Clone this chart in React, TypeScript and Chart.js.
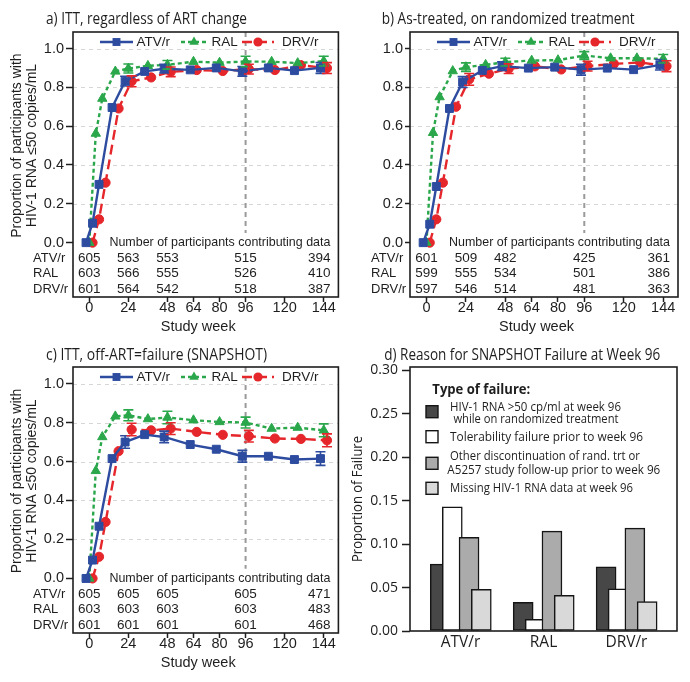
import React, { useEffect, useRef } from 'react';
import { Chart, registerables } from 'chart.js';

Chart.register(...registerables);

// ---------------- data ----------------
const WEEKS = [0, 4, 8, 16, 24, 36, 48, 64, 80, 96, 112, 128, 144];
const WEEK_TICKS = [0, 24, 48, 64, 80, 96, 120, 144];
const PROP_TICKS = [0, 0.2, 0.4, 0.6, 0.8, 1.0];
const GRID_VALUES = [0.2, 0.4, 0.6, 0.8, 1.0];
const REF_WEEK = 96;
const ERR_WEEKS = [24, 48, 96, 144];
const COUNT_WEEKS = [0, 24, 48, 96, 144];
const ARMS = ['ATV/r', 'RAL', 'DRV/r'];

// a) ITT, regardless of ART change
const A_ATV = [0, 0.1, 0.3, 0.696, 0.832, 0.882, 0.896, 0.89, 0.9, 0.882, 0.9, 0.886, 0.9];
const A_RAL = [0, 0.562, 0.742, 0.882, 0.897, 0.911, 0.916, 0.932, 0.927, 0.933, 0.932, 0.925, 0.935];
const A_DRV = [0, 0.12, 0.309, 0.691, 0.831, 0.851, 0.88, 0.889, 0.884, 0.894, 0.889, 0.914, 0.899];
const A_ERR_ATV = [0.025, 0.022, 0.025, 0.028];
const A_ERR_RAL = [0.023, 0.022, 0.027, 0.025];
const A_ERR_DRV = [0.028, 0.025, 0.025, 0.028];
const A_N_ATV = [605, 563, 553, 515, 394];
const A_N_RAL = [603, 566, 555, 526, 410];
const A_N_DRV = [601, 564, 542, 518, 387];

// b) As-treated, on randomized treatment
const B_ATV = [0, 0.095, 0.289, 0.691, 0.827, 0.887, 0.909, 0.899, 0.904, 0.891, 0.899, 0.891, 0.916];
const B_RAL = [0, 0.566, 0.75, 0.884, 0.904, 0.916, 0.93, 0.938, 0.94, 0.964, 0.95, 0.95, 0.947];
const B_DRV = [0, 0.12, 0.309, 0.7, 0.841, 0.87, 0.896, 0.908, 0.892, 0.909, 0.921, 0.928, 0.909];
const B_ERR_ATV = [0.028, 0.022, 0.028, 0.027];
const B_ERR_RAL = [0.022, 0.02, 0.02, 0.022];
const B_ERR_DRV = [0.03, 0.025, 0.025, 0.028];
const B_N_ATV = [601, 509, 482, 425, 361];
const B_N_RAL = [599, 555, 534, 501, 386];
const B_N_DRV = [597, 546, 514, 481, 363];

// c) ITT, off-ART=failure (SNAPSHOT)
const C_ATV = [0, 0.094, 0.268, 0.615, 0.7, 0.738, 0.726, 0.687, 0.663, 0.627, 0.627, 0.61, 0.615];
const C_RAL = [0, 0.552, 0.726, 0.832, 0.837, 0.818, 0.826, 0.812, 0.803, 0.8, 0.769, 0.774, 0.76];
const C_DRV = [0, 0.111, 0.29, 0.653, 0.764, 0.76, 0.769, 0.752, 0.737, 0.73, 0.718, 0.716, 0.709];
const C_ERR_ATV = [0.032, 0.03, 0.03, 0.035];
const C_ERR_RAL = [0.028, 0.032, 0.028, 0.033];
const C_ERR_DRV = [0.032, 0.03, 0.03, 0.033];
const C_N_ATV = [605, 605, 605, 605, 471];
const C_N_RAL = [603, 603, 603, 603, 483];
const C_N_DRV = [601, 601, 601, 601, 468];

// d) Reason for SNAPSHOT failure at week 96
const DRUGS = ['ATV/r', 'RAL', 'DRV/r'];
const FAIL_TYPES = [
  'HIV-1 RNA >50 cp/ml at week 96 while on randomized treatment',
  'Tolerability failure prior to week 96',
  'Other discontinuation of rand. trt or A5257 study follow-up prior to week 96',
  'Missing HIV-1 RNA data at week 96',
];
const FAIL_VIROLOGIC = [0.077, 0.033, 0.074];
const FAIL_TOLERABILITY = [0.143, 0.0135, 0.0485];
const FAIL_OTHER = [0.108, 0.115, 0.1185];
const FAIL_MISSING = [0.048, 0.041, 0.034];
const FAIL_TICKS = [0, 0.05, 0.1, 0.15, 0.2, 0.25, 0.3];

// ---------------- styles ----------------
const INK = '#1e1e1e';
const SANS = '"Liberation Sans", Arial, sans-serif';
const HUMAN = '"Open Sans", "Noto Sans", sans-serif';

const ARM_STYLE = [
  { color: '#2d4ca0', dash: [] as number[], pointStyle: 'rect', radius: 5.6, shift: -2 },
  { color: '#2ba74b', dash: [4, 3], pointStyle: 'triangle', radius: 5.4, shift: 0 },
  { color: '#e5262b', dash: [10, 5], pointStyle: 'circle', radius: 4.6, shift: 2 },
];
const LEGEND_POS = [
  { l0: 27, l1: 60, tx: 63.5 },
  { l0: 108, l1: 134, tx: 138.5 },
  { l0: 169, l1: 201, tx: 209 },
];
const BAR_FILL = ['#474747', '#ffffff', '#ababab', '#d9d9d9'];
const BAR_SHIFT = [-0.245, -0.1, 0.102, 0.25];

type Area = { l: number; t: number; r: number; b: number };
type LineSpec = {
  key: string;
  title: string;
  values: number[][];
  errs: number[][];
  counts: number[][];
  left: number;
  top: number;
  w: number;
  h: number;
  area: Area;
  yTitle: boolean;
  titleX: number;
  titleBase: number;
  titleW: number;
  rowX: number;
  yTickLen: number;
};

const PANELS: LineSpec[] = [
  {
    key: 'a', title: 'a) ITT, regardless of ART change',
    values: [A_ATV, A_RAL, A_DRV], errs: [A_ERR_ATV, A_ERR_RAL, A_ERR_DRV], counts: [A_N_ATV, A_N_RAL, A_N_DRV],
    left: 0, top: 0, w: 345, h: 340, area: { l: 73, t: 32, r: 342, b: 297 },
    yTitle: true, titleX: 46, titleBase: 23.5, titleW: 201, rowX: 33, yTickLen: 7,
  },
  {
    key: 'b', title: 'b) As-treated, on randomized treatment',
    values: [B_ATV, B_RAL, B_DRV], errs: [B_ERR_ATV, B_ERR_RAL, B_ERR_DRV], counts: [B_N_ATV, B_N_RAL, B_N_DRV],
    left: 345, top: 0, w: 345, h: 340, area: { l: 65, t: 32, r: 333, b: 297 },
    yTitle: false, titleX: 36.7, titleBase: 23.5, titleW: 253, rowX: 26, yTickLen: 5,
  },
  {
    key: 'c', title: 'c) ITT, off-ART=failure (SNAPSHOT)',
    values: [C_ATV, C_RAL, C_DRV], errs: [C_ERR_ATV, C_ERR_RAL, C_ERR_DRV], counts: [C_N_ATV, C_N_RAL, C_N_DRV],
    left: 0, top: 340, w: 345, h: 342, area: { l: 73, t: 27, r: 341, b: 293 },
    yTitle: true, titleX: 46, titleBase: 20, titleW: 221, rowX: 33, yTickLen: 7,
  },
];

function text(ctx: CanvasRenderingContext2D, s: string, x: number, y: number, font: string,
  align: CanvasTextAlign = 'left', baseline: CanvasTextBaseline = 'middle', maxW?: number) {
  ctx.font = font;
  ctx.textAlign = align;
  ctx.textBaseline = baseline;
  ctx.fillStyle = INK;
  if (maxW) ctx.fillText(s, x, y, maxW);
  else ctx.fillText(s, x, y);
}

function marker(ctx: CanvasRenderingContext2D, style: string, x: number, y: number, r: number, color: string) {
  ctx.fillStyle = color;
  ctx.beginPath();
  if (style === 'rect') {
    const s = r * Math.SQRT1_2;
    ctx.rect(x - s, y - s, 2 * s, 2 * s);
  } else if (style === 'triangle') {
    for (let i = 0; i < 3; i++) {
      const a = (i * 2 * Math.PI) / 3;
      const px = x + Math.sin(a) * r;
      const py = y - Math.cos(a) * r;
      if (i === 0) ctx.moveTo(px, py);
      else ctx.lineTo(px, py);
    }
    ctx.closePath();
  } else {
    ctx.arc(x, y, r, 0, Math.PI * 2);
  }
  ctx.fill();
}

function LinePanel({ p }: { p: LineSpec }) {
  const ref = useRef<HTMLCanvasElement>(null);
  useEffect(() => {
    const canvas = ref.current!;
    const A = p.area;
    const datasets = ARMS.map((arm, k) => ({
      type: 'line' as const,
      label: arm,
      data: WEEKS.map((w, i) => ({ x: w + ARM_STYLE[k].shift, y: p.values[k][i] })),
      borderColor: ARM_STYLE[k].color,
      backgroundColor: ARM_STYLE[k].color,
      pointBackgroundColor: ARM_STYLE[k].color,
      pointBorderColor: ARM_STYLE[k].color,
      borderWidth: 2.4,
      borderDash: ARM_STYLE[k].dash,
      pointStyle: ARM_STYLE[k].pointStyle as any,
      pointRadius: ARM_STYLE[k].radius,
      pointBorderWidth: 1,
      tension: 0,
      fill: false,
    }));

    const deco = {
      id: 'deco_' + p.key,
      beforeDatasetsDraw(chart: any) {
        const { ctx, chartArea: ca, scales } = chart;
        const x = scales.x;
        const y = scales.y;
        ctx.save();
        ctx.strokeStyle = '#d6d6d6';
        ctx.lineWidth = 1;
        ctx.setLineDash([4, 4]);
        for (const v of GRID_VALUES) {
          const py = Math.round(y.getPixelForValue(v)) + 0.5;
          ctx.beginPath();
          ctx.moveTo(ca.left, py);
          ctx.lineTo(ca.right, py);
          ctx.stroke();
        }
        ctx.strokeStyle = '#9a9a9a';
        ctx.lineWidth = 2;
        ctx.setLineDash([5, 4]);
        const px = x.getPixelForValue(REF_WEEK);
        ctx.beginPath();
        ctx.moveTo(px, ca.top);
        ctx.lineTo(px, y.getPixelForValue(0.05));
        ctx.stroke();
        ctx.restore();
      },
      afterDatasetsDraw(chart: any) {
        const { ctx, scales } = chart;
        const x = scales.x;
        const y = scales.y;
        ctx.save();
        ctx.lineWidth = 1.6;
        ctx.setLineDash([]);
        ARMS.forEach((_, k) => {
          ctx.strokeStyle = ARM_STYLE[k].color;
          ERR_WEEKS.forEach((wk, j) => {
            const idx = WEEKS.indexOf(wk);
            const v = p.values[k][idx];
            const e = p.errs[k][j];
            const px = x.getPixelForValue(wk + ARM_STYLE[k].shift);
            const y0 = y.getPixelForValue(v - e);
            const y1 = y.getPixelForValue(v + e);
            ctx.beginPath();
            ctx.moveTo(px, y0);
            ctx.lineTo(px, y1);
            ctx.moveTo(px - 5, y0);
            ctx.lineTo(px + 5, y0);
            ctx.moveTo(px - 5, y1);
            ctx.lineTo(px + 5, y1);
            ctx.stroke();
          });
        });
        ctx.restore();
      },
      afterDraw(chart: any) {
        const { ctx, chartArea: ca, scales } = chart;
        const x = scales.x;
        const y = scales.y;
        ctx.save();
        // frame
        ctx.strokeStyle = INK;
        ctx.lineWidth = 1.6;
        ctx.setLineDash([]);
        ctx.strokeRect(ca.left, ca.top, ca.right - ca.left, ca.bottom - ca.top);
        // legend
        const ly = ca.top + 10;
        ARMS.forEach((arm, k) => {
          const L = LEGEND_POS[k];
          ctx.strokeStyle = ARM_STYLE[k].color;
          ctx.lineWidth = 2.4;
          ctx.setLineDash(ARM_STYLE[k].dash);
          ctx.beginPath();
          ctx.moveTo(ca.left + L.l0, ly);
          ctx.lineTo(ca.left + L.l1, ly);
          ctx.stroke();
          ctx.setLineDash([]);
          marker(ctx, ARM_STYLE[k].pointStyle, ca.left + (L.l0 + L.l1) / 2, ly, ARM_STYLE[k].radius, ARM_STYLE[k].color);
          text(ctx, arm, ca.left + L.tx, ly + 0.5, '13.5px ' + SANS);
        });
        // participants table
        const y0 = y.getPixelForValue(0);
        text(ctx, 'Number of participants contributing data', ca.right - 8, y0, '13.5px ' + SANS, 'right', 'middle', 221);
        const rowDy = [15.5, 31, 46.5];
        ARMS.forEach((arm, k) => {
          const ry = y0 + rowDy[k];
          text(ctx, arm, p.rowX, ry, '13px ' + SANS, 'left', 'middle');
          COUNT_WEEKS.forEach((wk, j) => {
            const s = String(p.counts[k][j]);
            if (j === COUNT_WEEKS.length - 1) text(ctx, s, ca.right - 8, ry, '13.5px ' + SANS, 'right');
            else text(ctx, s, x.getPixelForValue(wk), ry, '13.5px ' + SANS, 'center');
          });
        });
        // title
        text(ctx, p.title, p.titleX, p.titleBase, '15.5px ' + HUMAN, 'left', 'alphabetic', p.titleW);
        // x title
        text(ctx, 'Study week', (ca.left + ca.right) / 2 - 7.5, ca.bottom + 29.5, '14.5px ' + SANS, 'center');
        // y title
        if (p.yTitle) {
          const cy = y.getPixelForValue(0.5);
          ctx.save();
          ctx.translate(17.5, cy);
          ctx.rotate(-Math.PI / 2);
          text(ctx, 'Proportion of participants with', 0, 0, '14px ' + SANS, 'center');
          ctx.restore();
          ctx.save();
          ctx.translate(32, cy);
          ctx.rotate(-Math.PI / 2);
          text(ctx, 'HIV-1 RNA \u226450 copies/mL', 0, 0, '14px ' + SANS, 'center');
          ctx.restore();
        }
        ctx.restore();
      },
    };

    const chart = new Chart(canvas, {
      type: 'line',
      data: { datasets: datasets as any },
      options: {
        animation: false,
        responsive: false,
        events: [],
        layout: { padding: { top: A.t, right: p.w - A.r, left: 0, bottom: 0 } },
        plugins: { legend: { display: false }, tooltip: { enabled: false }, title: { display: false } },
        scales: {
          x: {
            type: 'linear',
            min: -10,
            max: 153,
            afterBuildTicks: (s: any) => { s.ticks = WEEK_TICKS.map((v) => ({ value: v })); },
            afterFit: (s: any) => { s.height = p.h - A.b; s.paddingLeft = 0; s.paddingRight = 0; },
            ticks: { font: { family: SANS, size: 14.5 }, color: INK, padding: -3, maxRotation: 0, autoSkip: false },
            grid: { drawOnChartArea: false, drawTicks: true, tickLength: 5, tickColor: INK, tickWidth: 1.5 },
            border: { display: false },
          },
          y: {
            type: 'linear',
            min: -0.28,
            max: 1.085,
            afterBuildTicks: (s: any) => { s.ticks = PROP_TICKS.map((v) => ({ value: v })); },
            afterFit: (s: any) => { s.width = A.l; s.paddingTop = 0; s.paddingBottom = 0; },
            ticks: {
              font: { family: SANS, size: 14.5 }, color: INK, padding: 2,
              callback: (v: any) => Number(v).toFixed(1),
            },
            grid: { drawOnChartArea: false, drawTicks: true, tickLength: p.yTickLen, tickColor: INK, tickWidth: 1.5 },
            border: { display: false },
          },
        },
      } as any,
      plugins: [deco],
    });
    return () => chart.destroy();
  }, []);
  return (
    <canvas
      ref={ref}
      width={p.w}
      height={p.h}
      style={{ position: 'absolute', left: p.left, top: p.top, width: p.w, height: p.h, display: 'block' }}
    />
  );
}

const LEGEND_D_LINES = [
  ['HIV-1 RNA >50 cp/ml at week 96', ' while on randomized treatment'],
  ['Tolerability failure prior to week 96'],
  ['Other discontinuation of rand. trt or', 'A5257 study follow-up prior to week 96'],
  ['Missing HIV-1 RNA data at week 96'],
];
const LEGEND_D_LAYOUT = [
  { sy: 71.7, ly: [66.7, 79], lx: [105, 105.5], lw: [171, 168] },
  { sy: 96.7, ly: [97.3], lx: [105], lw: [193] },
  { sy: 123.3, ly: [116, 130], lx: [105, 102.3], lw: [190, 213] },
  { sy: 148.3, ly: [148.3], lx: [105], lw: [183] },
];

function BarPanel() {
  const ref = useRef<HTMLCanvasElement>(null);
  useEffect(() => {
    const canvas = ref.current!;
    const W = 345;
    const H = 342;
    const A = { l: 65, t: 27, r: 332, b: 291 };
    const series = [FAIL_VIROLOGIC, FAIL_TOLERABILITY, FAIL_OTHER, FAIL_MISSING];
    const datasets = FAIL_TYPES.map((lab, k) => ({
      type: 'bar' as const,
      label: lab,
      data: DRUGS.map((_, i) => ({ x: i + BAR_SHIFT[k], y: series[k][i] })),
      backgroundColor: BAR_FILL[k],
      borderColor: '#151515',
      borderWidth: 1.5,
      borderSkipped: false,
      grouped: false,
      barThickness: 20,
      order: 3 - k,
    }));
    const deco = {
      id: 'deco_d',
      afterDraw(chart: any) {
        const { ctx, chartArea: ca } = chart;
        ctx.save();
        ctx.strokeStyle = INK;
        ctx.lineWidth = 1.6;
        ctx.strokeRect(ca.left, ca.top, ca.right - ca.left, ca.bottom - ca.top);
        text(ctx, 'd) Reason for SNAPSHOT Failure at Week 96', 39.3, 19.5, '15.5px ' + HUMAN, 'left', 'alphabetic', 276);
        ctx.save();
        ctx.translate(13, (ca.top + ca.bottom) / 2);
        ctx.rotate(-Math.PI / 2);
        text(ctx, 'Proportion of Failure', 0, 0, '14.5px ' + HUMAN, 'center', 'middle', 126);
        ctx.restore();
        // legend
        text(ctx, 'Type of failure:', 87.3, 50, 'bold 15px ' + HUMAN, 'left', 'middle', 98);
        LEGEND_D_LINES.forEach((lines, k) => {
          const L = LEGEND_D_LAYOUT[k];
          ctx.fillStyle = BAR_FILL[k];
          ctx.fillRect(81, L.sy - 6, 12, 12);
          ctx.strokeStyle = '#151515';
          ctx.lineWidth = 1.4;
          ctx.strokeRect(81, L.sy - 6, 12, 12);
          lines.forEach((s, j) => {
            text(ctx, s, L.lx[j], L.ly[j], '13.5px ' + HUMAN, 'left', 'middle', L.lw[j]);
          });
        });
        ctx.restore();
      },
    };
    const chart = new Chart(canvas, {
      type: 'bar',
      data: { datasets: datasets as any },
      options: {
        animation: false,
        responsive: false,
        events: [],
        layout: { padding: { top: A.t, right: W - A.r, left: 0, bottom: 0 } },
        plugins: { legend: { display: false }, tooltip: { enabled: false }, title: { display: false } },
        scales: {
          x: {
            type: 'linear',
            offset: false,
            min: -0.61,
            max: 2.61,
            afterBuildTicks: (s: any) => { s.ticks = DRUGS.map((_, i) => ({ value: i })); },
            afterFit: (s: any) => { s.height = H - A.b; s.paddingLeft = 0; s.paddingRight = 0; },
            ticks: {
              font: { family: HUMAN, size: 15.5 }, color: INK, padding: 2, maxRotation: 0, autoSkip: false,
              callback: (v: any) => DRUGS[Math.round(Number(v))] ?? '',
            },
            grid: { display: true, offset: false, drawOnChartArea: false, drawTicks: false },
            border: { display: false },
          },
          y: {
            type: 'linear',
            min: 0,
            max: 0.304,
            afterBuildTicks: (s: any) => { s.ticks = FAIL_TICKS.map((v) => ({ value: v })); },
            afterFit: (s: any) => { s.width = A.l; s.paddingTop = 0; s.paddingBottom = 0; },
            ticks: {
              font: { family: HUMAN, size: 14 }, color: INK, padding: 4,
              callback: (v: any) => Number(v).toFixed(2),
            },
            grid: { drawOnChartArea: false, drawTicks: true, tickLength: 8, tickColor: INK, tickWidth: 1.5 },
            border: { display: false },
          },
        },
      } as any,
      plugins: [deco],
    });
    return () => chart.destroy();
  }, []);
  return (
    <canvas
      ref={ref}
      width={345}
      height={342}
      style={{ position: 'absolute', left: 345, top: 340, width: 345, height: 342, display: 'block' }}
    />
  );
}

export default function App() {
  return (
    <div style={{ position: 'absolute', left: 0, top: 0, width: 690, height: 682, background: '#ffffff', overflow: 'hidden' }}>
      {PANELS.map((p) => (
        <LinePanel key={p.key} p={p} />
      ))}
      <BarPanel />
    </div>
  );
}
